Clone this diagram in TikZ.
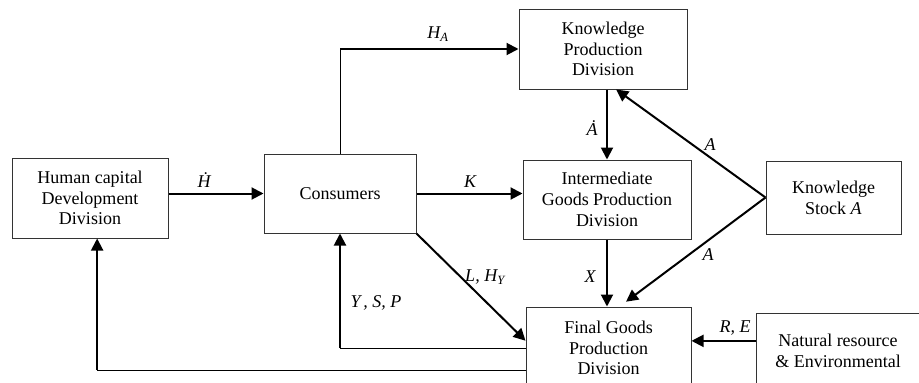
\documentclass[tikz,border=0pt]{standalone}
\usepackage{fontspec}
\setmainfont{Liberation Serif}
\usepackage{tikz}
\usetikzlibrary{arrows.meta}
\tikzset{
  every picture/.style={line join=miter, >={Triangle[length=12pt,width=12pt]}},
  box/.style={draw=black!80, line width=1pt, align=center, inner sep=0pt,
    font=\fontsize{18}{20.7}\selectfont},
  flow/.style={->, line width=2pt},
  link/.style={line width=1pt},
  lab/.style={font=\fontsize{18}{20}\selectfont\itshape, inner sep=0pt},
}

\begin{document}
\begin{tikzpicture}[x=1pt,y=-1pt]
\useasboundingbox (0,0) rectangle (919,383);
% boxes
\node[box, minimum width=156pt, minimum height=80pt] (human) at (90,198) {Human capital\\Development\\Division};
\node[box, minimum width=152pt, minimum height=79pt] (cons) at (340,193.5) {Consumers};
\node[box, minimum width=168pt, minimum height=80pt] (kpd) at (603,49) {Knowledge\\Production\\Division};
\node[box, minimum width=168pt, minimum height=79pt] (igp) at (607,199.5) {Intermediate\\Goods Production\\Division};
\node[box, minimum width=165pt, minimum height=82pt] (fgp) at (608.5,348) {Final Goods\\Production\\Division};
\node[box, minimum width=135pt, minimum height=73pt] (kst) at (833.5,197.5) {Knowledge\\Stock \textit{A}};
\node[box, minimum width=164pt, minimum height=76pt] (nat) at (838,351) {Natural resource\\\& Environmental};
% flows
\draw[flow] (cons.west -| human.east) -- (cons.west);
\draw[flow] (cons.east) -- (cons.east -| igp.west);
\coordinate (ha) at (cons.north |- kpd.west);
\draw[link] (cons.north) -- (ha);
\draw[flow] (ha) -- (kpd.west);
\draw[flow] (igp.north |- kpd.south) -- (igp.north);
\draw[flow] (igp.south) -- (igp.south |- fgp.north);
\draw[flow] (kst.west) -- (kpd.-72);
\draw[flow, shorten >=8pt] (kst.west) -- (fgp.75);
\draw[flow] (cons.south east) -- (fgp.175);
\coordinate (ysp) at (cons.south |- fgp.west);
\draw[link] (fgp.west) -- (ysp);
\draw[flow] (ysp) -- (cons.south);
\coordinate (hfb) at (human.-80 |- fgp.195);
\draw[link] (fgp.195) -- (hfb);
\draw[flow] (hfb) -- (human.-80);
\draw[flow] (nat.173) -- (nat.173 -| fgp.east);
% labels
\node[lab] (lhdot) at (204,180) {\.{H}};
\node[lab] (lha) at (438,34) {H\textsubscript{\textit{A}}};
\node[lab] (lk) at (470,182) {K};
\node[lab] (ladot) at (592,128) {\.{A}};
\node[lab] (lx) at (590,277) {X};
\node[lab] (la1) at (710,145) {A};
\node[lab] (la2) at (708,255) {A};
\node[lab] (llh) at (485,277) {L, H\textsubscript{\textit{Y}}};
\node[lab] (lysp) at (376,303) {Y\,, S, P};
\node[lab] (lre) at (735,328) {R, E};
\end{tikzpicture}
\end{document}
